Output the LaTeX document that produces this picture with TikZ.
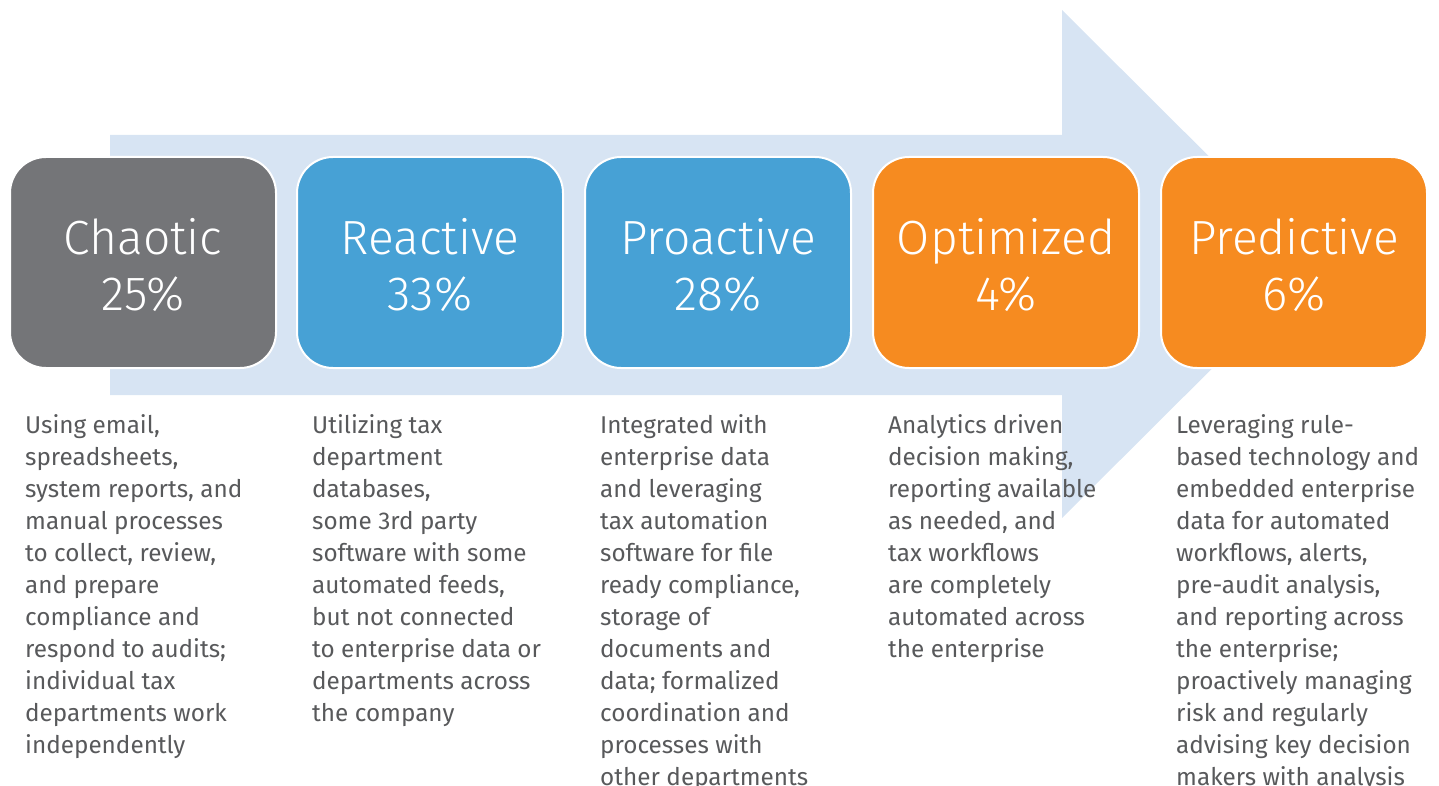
\documentclass[tikz,border=0pt]{standalone}
\usepackage{fontspec}
\setmainfont{Fira Sans}
\newfontfamily\stagefont{Fira Sans Light}
\usetikzlibrary{positioning}
\definecolor{stagegray}{RGB}{116, 117, 120}
\definecolor{stageblue}{RGB}{71, 161, 213}
\definecolor{stageorange}{RGB}{246, 139, 32}
\definecolor{arrowblue}{RGB}{215, 228, 243}
\definecolor{textgray}{RGB}{88, 89, 91}

% two-line stage label, the strut keeps every title on the same baseline
\newcommand{\stagetext}[2]{\rule{0pt}{41pt}#1\\#2}

\tikzset{
  stage/.style={draw=white, line width=2pt, rounded corners=36pt,
    minimum width=266pt, minimum height=211pt, inner sep=0pt,
    align=center, text=white, font=\stagefont\fontsize{48}{56}\selectfont},
  desc/.style={anchor=north west, align=left, inner sep=0pt,
    text=textgray, font=\fontsize{24.3}{32}\selectfont}
}

\begin{document}
\begin{tikzpicture}[x=1pt, y=-1pt]
    \useasboundingbox (0,0) rectangle (1439,786);

    % Background arrow
    \fill[arrowblue] (110,135) -- (1062,135) -- (1062,10) -- (1317,264)
        -- (1062,518) -- (1062,395) -- (110,395) -- cycle;

    % Chaotic
    \node[stage, fill=stagegray] (chaotic) at (143,262.5) {\stagetext{Chaotic}{25\%}};
    \node[desc] (chaoticdesc) at (25,414) {Using email,\\spreadsheets,\\system reports, and\\manual processes\\to collect, review,\\and prepare\\compliance and\\respond to audits;\\individual tax\\departments work\\independently};

    % Reactive
    \node[stage, fill=stageblue] (reactive) at (430,262.5) {\stagetext{Reactive}{33\%}};
    \node[desc] (reactivedesc) at (312,414) {Utilizing tax\\department\\databases,\\some 3rd party\\software with some\\automated feeds,\\but not connected\\to enterprise data or\\departments across\\the company};

    % Proactive
    \node[stage, fill=stageblue] (proactive) at (718,262.5) {\stagetext{Proactive}{28\%}};
    \node[desc] (proactivedesc) at (600,414) {Integrated with\\enterprise data\\and leveraging\\tax automation\\software for file\\ready compliance,\\storage of\\documents and\\data; formalized\\coordination and\\processes with\\other departments};

    % Optimized
    \node[stage, fill=stageorange] (optimized) at (1006,262.5) {\stagetext{Optimized}{4\%}};
    \node[desc] (optimizeddesc) at (888,414) {Analytics driven\\decision making,\\reporting available\\as needed, and\\tax workflows\\are completely\\automated across\\the enterprise};

    % Predictive
    \node[stage, fill=stageorange] (predictive) at (1294,262.5) {\stagetext{Predictive}{6\%}};
    \node[desc] (predictivedesc) at (1176,414) {Leveraging rule-\\based technology and\\embedded enterprise\\data for automated\\workflows, alerts,\\pre-audit analysis,\\and reporting across\\the enterprise;\\proactively managing\\risk and regularly\\advising key decision\\makers with analysis};
\end{tikzpicture}
\end{document}
